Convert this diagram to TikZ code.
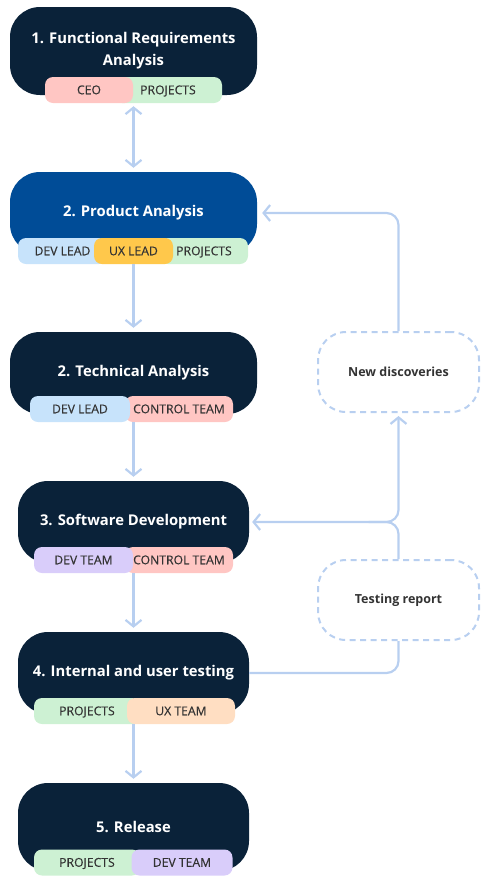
\documentclass[tikz,border=0pt]{standalone}
\usepackage{fontspec}
\setmainfont{Open Sans}
\newfontfamily\pillfont[FakeBold=0.35]{Open Sans}
\usepackage{xcolor}
\definecolor{navy}      {HTML}{0A2239}
\definecolor{royal}     {HTML}{004C97}
\definecolor{flowBlue}  {HTML}{B8CFF0}
\definecolor{pillText}  {HTML}{333333}
\definecolor{pinkBack}  {HTML}{FFC6C3}
\definecolor{greenBack} {HTML}{CDF1D3}
\definecolor{skyBack}   {HTML}{C7E3FB}
\definecolor{goldBack}  {HTML}{FFC84B}
\definecolor{lilacBack} {HTML}{D9CDFA}
\definecolor{peachBack} {HTML}{FFDEC2}
\usetikzlibrary{arrows.meta, positioning, calc}
\tikzset{
    stage/.style={rectangle, rounded corners=30pt, fill=navy, text=white,
                  font=\fontsize{14.8}{22}\selectfont\bfseries,
                  align=center, inner sep=0pt},
    widestage/.style={stage, minimum width=247pt},
    narrowstage/.style={stage, minimum width=231pt},
    pill/.style={rectangle, rounded corners=8pt, minimum height=26pt,
                 inner sep=0pt, text=pillText, text height=8.5pt, text depth=0pt,
                 font=\pillfont\fontsize{12.2}{14}\selectfont},
    note/.style={rectangle, rounded corners=28pt, draw=flowBlue,
                 line width=2pt, dash pattern=on 6pt off 4.5pt,
                 minimum width=161pt, minimum height=80pt,
                 text=pillText, font=\fontsize{12.5}{15}\selectfont\bfseries},
    flow/.style={line width=2.2pt, draw=flowBlue,
                 arrows={-Straight Barb[length=6.5pt, width=16pt]}},
    link/.style={line width=2.2pt, draw=flowBlue},
}

\begin{document}
\begin{tikzpicture}[x=1pt, y=-1pt]
\useasboundingbox (0,0) rectangle (497,892);

% --- stages ---
\node[widestage, minimum height=88pt] (fra) at (133.5, 51)
    {1. Functional Requirements\\Analysis};
\node[widestage, minimum height=82pt, fill=royal] (pa) at (133.5, 213)
    {2. Product Analysis};
\node[widestage, minimum height=82pt] (ta) at (133.5, 373)
    {2. Technical Analysis};
\node[narrowstage, minimum height=82pt] (sd) at (133.5, 522)
    {3. Software Development};
\node[narrowstage, minimum height=82pt] (ut) at (133.5, 673)
    {4. Internal and user testing};
\node[narrowstage, minimum height=88pt] (rel) at (133.5, 827)
    {5. Release};

% --- role pills (the upper one is drawn last) ---
\node[pill, fill=greenBack, minimum width=108pt] (fra-proj) at (168, 90) {PROJECTS};
\node[pill, fill=pinkBack, minimum width=88pt] (fra-ceo) at (89, 90) {CEO};

\node[pill, fill=skyBack, minimum width=89pt] (pa-dev) at (62.5, 251) {DEV LEAD};
\node[pill, fill=greenBack, minimum width=88pt] (pa-proj) at (204, 251) {PROJECTS};
\node[pill, fill=goldBack, minimum width=79pt] (pa-ux) at (133.5, 251) {UX LEAD};

\node[pill, fill=pinkBack, minimum width=108pt] (ta-ctrl) at (179, 409) {CONTROL TEAM};
\node[pill, fill=skyBack, minimum width=100pt] (ta-dev) at (80, 409) {DEV LEAD};

\node[pill, fill=pinkBack, minimum width=108pt] (sd-ctrl) at (179, 560) {CONTROL TEAM};
\node[pill, fill=lilacBack, minimum width=99pt] (sd-dev) at (83.5, 560) {DEV TEAM};

\node[pill, fill=greenBack, minimum width=106pt] (ut-proj) at (87, 711) {PROJECTS};
\node[pill, fill=peachBack, minimum width=108pt] (ut-ux) at (181, 711) {UX TEAM};

\node[pill, fill=greenBack, minimum width=106pt] (rel-proj) at (87, 862.5) {PROJECTS};
\node[pill, fill=lilacBack, minimum width=101pt] (rel-dev) at (182, 862.5) {DEV TEAM};

% --- side notes ---
\node[note] (newd) at (398.5, 372) {New discoveries};
\node[note] (test) at (398.5, 600) {Testing report};

% --- main flow ---
\draw[flow, arrows={Straight Barb[length=6.5pt, width=16pt]-Straight Barb[length=6.5pt, width=16pt]},
      shorten <=3pt, shorten >=4pt] (fra.south |- fra-ceo.south) -- (pa.north);
\draw[flow, shorten >=4pt] (pa-ux.south) -- (ta.north);
\draw[flow, shorten >=4pt] (ta.south |- ta-dev.south) -- (sd.north);
\draw[flow, shorten >=4pt] (sd.south |- sd-dev.south) -- (ut.north);
\draw[flow, shorten >=4pt] (ut.south |- ut-ux.south) -- (rel.north);

% --- feedback loops ---
\coordinate (split) at (sd.east -| test.north);
\draw[link, rounded corners=12pt] (ut.east) -| (test.south);
\draw[flow, rounded corners=12pt, shorten >=3pt] (test.north) |- (sd.east);
\draw[flow, rounded corners=12pt, shorten >=3pt]
    ($(split)+(-30,0)$) -- (split) -- (newd.south);
\draw[flow, rounded corners=12pt, shorten >=5pt] (newd.north) |- (pa.east);
\end{tikzpicture}
\end{document}
